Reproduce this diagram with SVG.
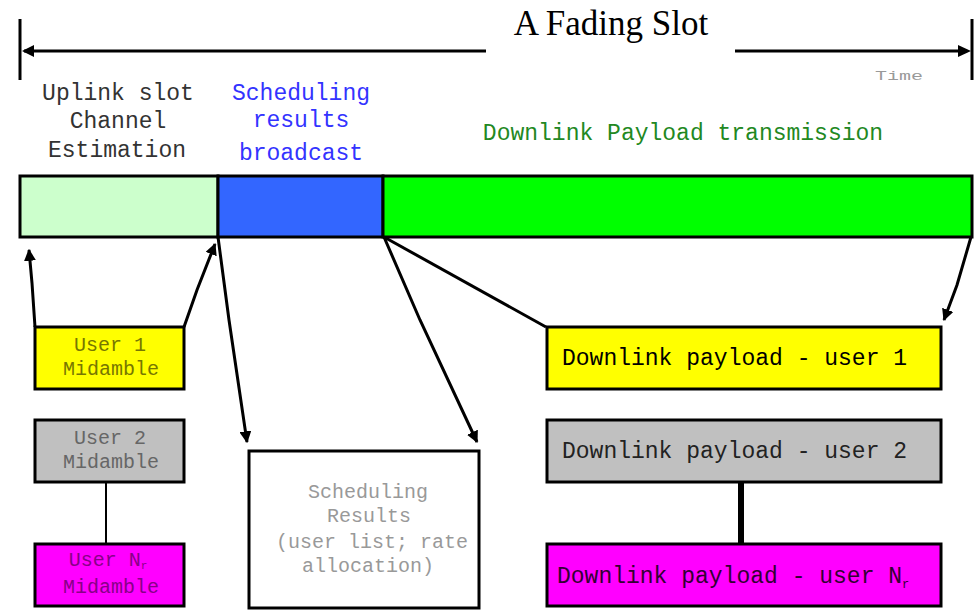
<svg xmlns="http://www.w3.org/2000/svg" width="978" height="610" viewBox="0 0 978 610">
<style>
.mono{font-family:"Liberation Mono","Courier New",monospace;}
.box{stroke:#000;stroke-width:3;}
.conn{fill:none;stroke:#000;stroke-width:3;}
.lbl{font-size:23px;text-anchor:middle;}
.small{font-size:20px;text-anchor:middle;}
</style>
<defs>
<marker id="ah" viewBox="0 0 10 10" refX="9" refY="5" markerWidth="4" markerHeight="4" orient="auto" markerUnits="strokeWidth">
<path d="M0,0 L10,5 L0,10 z" fill="#000"/>
</marker>
</defs>
<rect width="978" height="610" fill="#fff"/>

<g id="timeline">
<line x1="20" y1="19" x2="20" y2="80" stroke="#000" stroke-width="3"/>
<line x1="972" y1="19" x2="972" y2="80" stroke="#000" stroke-width="3"/>
<line x1="24" y1="51" x2="486" y2="51" stroke="#000" stroke-width="3"/>
<path d="M22,51 L34,45 L34,57 z" fill="#000"/>
<line x1="735" y1="51" x2="962" y2="51" stroke="#000" stroke-width="3"/>
<path d="M971,51 L958,45 L958,57 z" fill="#000"/>
<text x="611" y="35" font-family="'Liberation Serif','Times New Roman',serif" font-size="35" text-anchor="middle" fill="#000">A Fading Slot</text>
<text x="899" y="80" class="mono" font-size="13" text-anchor="middle" fill="#999" textLength="48" lengthAdjust="spacingAndGlyphs">Time</text>
</g>

<g id="labels" class="mono">
<text class="lbl" x="118" y="100" fill="#333">Uplink slot</text>
<text class="lbl" x="118" y="128" fill="#333">Channel</text>
<text class="lbl" x="117" y="157" fill="#333">Estimation</text>
<text class="lbl" x="301" y="100" fill="#3333ff">Scheduling</text>
<text class="lbl" x="301" y="127" fill="#3333ff">results</text>
<text class="lbl" x="301" y="160" fill="#3333ff">broadcast</text>
<text class="lbl" x="683" y="140" fill="#228822">Downlink Payload transmission</text>
</g>

<g id="slot-bar">
<rect id="uplink" class="box" x="20" y="176" width="198" height="61" fill="#ccffcc"/>
<rect id="sched" class="box" x="218" y="176" width="165" height="61" fill="#3366ff"/>
<rect id="downlink" class="box" x="383" y="176" width="589" height="61" fill="#00ff00"/>
</g>

<g id="user1-midamble">
<rect class="box" x="35" y="327" width="149" height="62" fill="#ffff00"/>
<text class="mono small" x="110" y="351" fill="#777700">User 1</text>
<text class="mono small" x="111" y="375" fill="#777700">Midamble</text>
</g>
<g id="user2-midamble">
<rect class="box" x="35" y="420" width="149" height="62" fill="#c0c0c0"/>
<text class="mono small" x="110" y="444" fill="#666">User 2</text>
<text class="mono small" x="111" y="468" fill="#666">Midamble</text>
</g>
<g id="userN-midamble">
<rect class="box" x="35" y="544" width="149" height="62" fill="#ff00ff"/>
<text class="mono small" x="108" y="566" fill="#880088">User N<tspan font-size="11" dy="3">r</tspan></text>
<text class="mono small" x="111" y="593" fill="#880088">Midamble</text>
</g>

<g id="sched-results">
<rect class="box" x="249" y="451" width="230" height="157" fill="#fff"/>
<text class="mono small" x="368" y="498" fill="#999">Scheduling</text>
<text class="mono small" x="369" y="522" fill="#999">Results</text>
<text class="mono small" x="372" y="548" fill="#999">(user list; rate</text>
<text class="mono small" x="368" y="572" fill="#999">allocation)</text>
</g>

<g id="dl-user1">
<rect class="box" x="547" y="327" width="394" height="62" fill="#ffff00"/>
<text class="mono" x="562" y="365" font-size="23" fill="#000">Downlink payload - user 1</text>
</g>
<g id="dl-user2">
<rect class="box" x="547" y="420" width="394" height="62" fill="#c0c0c0"/>
<text class="mono" x="562" y="458" font-size="23" fill="#222">Downlink payload - user 2</text>
</g>
<g id="dl-userN">
<rect class="box" x="547" y="544" width="394" height="62" fill="#ff00ff"/>
<text class="mono" x="557" y="583" font-size="23" fill="#330033">Downlink payload - user N<tspan font-size="12" dy="5">r</tspan></text>
</g>

<g id="connectors">
<polyline class="conn" points="35,327 32,283 29,250" marker-end="url(#ah)"/>
<polyline class="conn" points="184,327 197,290 215,244" marker-end="url(#ah)"/>
<polyline class="conn" points="218,237 229,320 247,442" marker-end="url(#ah)"/>
<polyline class="conn" points="384,237 420,320 477,442" marker-end="url(#ah)"/>
<polyline class="conn" points="384,237 546,327"/>
<polyline class="conn" points="971,237 957,285 944,320" marker-end="url(#ah)"/>
<line x1="106" y1="482" x2="106" y2="544" stroke="#000" stroke-width="2"/>
<line x1="741" y1="482" x2="741" y2="544" stroke="#000" stroke-width="6"/>
</g>
</svg>
